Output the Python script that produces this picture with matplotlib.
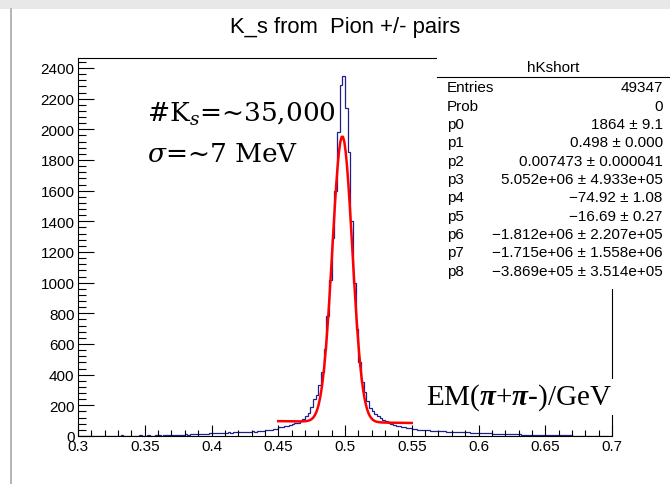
import numpy as np
import matplotlib
matplotlib.use("Agg")
import matplotlib.pyplot as plt
from matplotlib.patches import Rectangle
from matplotlib.lines import Line2D
from matplotlib.ticker import MultipleLocator

plt.rcParams['mathtext.fontset'] = 'custom'
plt.rcParams['mathtext.rm'] = 'DejaVu Serif'
plt.rcParams['mathtext.it'] = 'DejaVu Serif:italic'
plt.rcParams['mathtext.bf'] = 'Liberation Serif:bold:italic'

# ---------------- data ----------------
bin_lo = 0.3
bin_hi = 0.7
n_bins = 200
counts = [
    1, 0, 2, 0, 1, 3, 1, 0, 2, 1,
    2, 1, 3, 1, 2, 0, 4, 2, 1, 3,
    2, 3, 1, 4, 2, 3, 5, 2, 3, 4,
    4, 3, 5, 6, 4, 7, 6, 8, 9, 8,
    10, 9, 12, 11, 13, 12, 15, 14, 16, 18,
    20, 18, 21, 19, 22, 21, 23, 22, 24, 23,
    25, 24, 27, 26, 28, 30, 29, 32, 31, 34,
    36, 38, 40, 43, 46, 58, 60, 64, 68, 72,
    78, 82, 88, 95, 110, 128, 150, 190, 240, 270,
    330, 420, 570, 780, 1020, 1290, 1600, 1980, 2290, 2350,
    2140, 1850, 1400, 1000, 700, 480, 350, 290, 225, 185,
    160, 145, 130, 115, 102, 95, 88, 80, 72, 68,
    64, 60, 58, 55, 52, 46, 44, 42, 40, 38,
    37, 36, 35, 34, 33, 32, 31, 30, 29, 28,
    27, 26, 26, 25, 24, 23, 23, 22, 22, 21,
    21, 20, 19, 18, 17, 16, 16, 15, 14, 13,
    13, 12, 12, 11, 10, 10, 9, 9, 8, 8,
    8, 7, 7, 7, 6, 6, 6, 5, 5, 5,
    5, 4, 4, 4, 4, 3, 3, 3, 3, 2,
    3, 2, 2, 2, 1, 2, 1, 1, 1, 1,
]

# fit (gaussian part from stats box, background levels)
fit_range = (0.45, 0.55)
fit_p0, fit_p1, fit_p2 = 1864.0, 0.498, 0.007473
bkg_left, bkg_right = 97.0, 85.0

stat_names = ["Entries", "Prob", "p0", "p1", "p2", "p3", "p4", "p5", "p6", "p7", "p8"]
stat_values = ["49347", "0", "1864 \u00b1 9.1", "0.498 \u00b1 0.000",
               "0.007473 \u00b1 0.000041", "5.052e+06 \u00b1 4.933e+05",
               "\u221274.92 \u00b1 1.08", "\u221216.69 \u00b1 0.27",
               "\u22121.812e+06 \u00b1 2.207e+05", "\u22121.715e+06 \u00b1 1.558e+06",
               "\u22123.869e+05 \u00b1 3.514e+05"]

title = "K_s from  Pion +/- pairs"
stats_title = "hKshort"

# ---------------- figure ----------------
W, H = 670, 485
fig = plt.figure(figsize=(W / 100, H / 100), dpi=100)
fig.patch.set_facecolor('white')

def fx(px):
    return px / W

def fy(py):
    return 1 - py / H

ax = fig.add_axes([fx(78), fy(437), fx(612) - fx(78), fy(59) - fy(437)])
edges = np.linspace(bin_lo, bin_hi, n_bins + 1)
ax.stairs(counts, edges, color='#1f1f8c', lw=0.9, baseline=0)

xf = np.linspace(fit_range[0], fit_range[1], 100)
bkg = bkg_left + (bkg_right - bkg_left) * (xf - fit_range[0]) / (fit_range[1] - fit_range[0])
yf = fit_p0 * np.exp(-0.5 * ((xf - fit_p1) / fit_p2) ** 2) + bkg
ax.plot(xf, yf, color='#ff0000', lw=1.8)

ax.set_xlim(bin_lo, bin_hi)
ax.set_ylim(0, 2465)
ax.xaxis.set_major_locator(MultipleLocator(0.05))
ax.xaxis.set_minor_locator(MultipleLocator(0.01))
ax.yaxis.set_major_locator(MultipleLocator(200))
ax.yaxis.set_minor_locator(MultipleLocator(40))
ax.xaxis.set_major_formatter(plt.FuncFormatter(lambda v, p: f"{v:g}"))
ax.yaxis.set_major_formatter(plt.FuncFormatter(lambda v, p: f"{v:g}"))
for s in ax.spines.values():
    s.set_linewidth(0.8)
ax.tick_params(axis='y', which='major', direction='in', length=11.5, width=0.8,
               labelsize=11, pad=2.5)
ax.tick_params(axis='y', which='minor', direction='in', length=5.8, width=0.8)
ax.tick_params(axis='x', which='major', direction='in', length=8, width=0.8,
               labelsize=11, pad=2.5)
ax.tick_params(axis='x', which='minor', direction='in', length=4, width=0.8)
for lab in ax.get_xticklabels() + ax.get_yticklabels():
    lab.set_fontfamily('Liberation Sans')

fig.text(fx(345), fy(27), title, ha='center', va='center', fontsize=15.8,
         family='Liberation Sans')

# stats box
fig.add_artist(Rectangle((fx(437), fy(290)), fx(670) - fx(437), fy(57) - fy(290),
                         transform=fig.transFigure, facecolor='white',
                         edgecolor='none', zorder=5))
fig.add_artist(Line2D([fx(437), fx(670)], [fy(77.7), fy(77.7)], transform=fig.transFigure,
                      color='black', lw=0.8, zorder=6))
fig.text(fx(553), fy(68), stats_title, ha='center', va='center', fontsize=11,
         family='Liberation Sans', zorder=7)
for k, (nm, val) in enumerate(zip(stat_names, stat_values)):
    yy = 88.3 + k * 18.34
    fig.text(fx(446.7), fy(yy), nm, ha='left', va='center', fontsize=11,
             family='Liberation Sans', zorder=7)
    fig.text(fx(662.7), fy(yy), val, ha='right', va='center', fontsize=11,
             family=['Liberation Sans', 'DejaVu Sans'], zorder=7)

# annotations
fig.text(fx(146.7), fy(121.7), "#K$_s$=~35,000", ha='left', va='baseline',
         fontsize=19, family='DejaVu Serif', zorder=7)
fig.text(fx(146.7), fy(161.7), "$\\sigma$=~7 MeV", ha='left', va='baseline',
         fontsize=19, family='DejaVu Serif', zorder=7)
fig.text(fx(611.7), fy(405), "EM($\\mathbf{\u03c0}$+$\\mathbf{\u03c0}$-)/GeV", ha='right',
         va='baseline', fontsize=21, family='Liberation Serif', zorder=7,
         bbox=dict(facecolor='white', edgecolor='none', pad=2))

# screenshot border
fig.add_artist(Rectangle((0, fy(10)), 1, 10 / H, transform=fig.transFigure,
                         facecolor='#e8e8e8', edgecolor='none', zorder=8))
fig.add_artist(Line2D([fx(10.5), fx(10.5)], [0, fy(10)], transform=fig.transFigure,
                      color='#a8a8a8', lw=1.2, zorder=8))

fig.savefig("out.png", dpi=100)
